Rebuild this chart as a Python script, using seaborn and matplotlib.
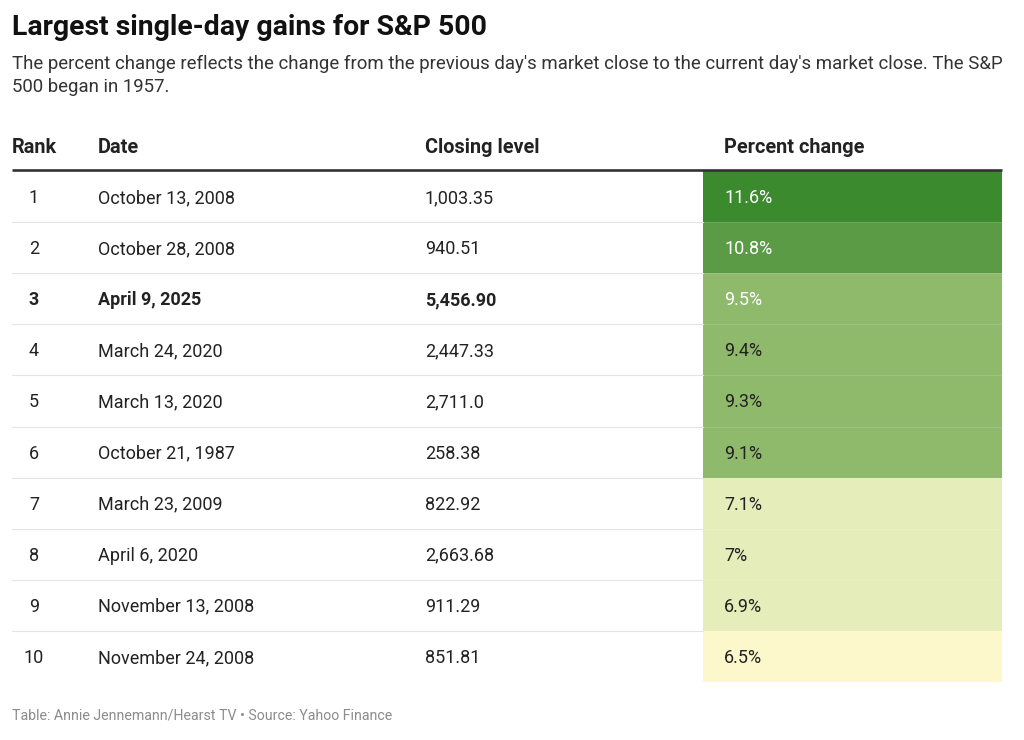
import matplotlib
matplotlib.use("Agg")
import matplotlib.pyplot as plt
import pandas as pd
import seaborn as sns
from matplotlib.colors import ListedColormap, BoundaryNorm


ranks = [1, 2, 3, 4, 5, 6, 7, 8, 9, 10]
dates = ["October 13, 2008", "October 28, 2008", "April 9, 2025", "March 24, 2020",
         "March 13, 2020", "October 21, 1987", "March 23, 2009", "April 6, 2020",
         "November 13, 2008", "November 24, 2008"]
closing = ["1,003.35", "940.51", "5,456.90", "2,447.33", "2,711.0",
           "258.38", "822.92", "2,663.68", "911.29", "851.81"]
pct_change = [11.6, 10.8, 9.5, 9.4, 9.3, 9.1, 7.1, 7.0, 6.9, 6.5]
highlight_rank = 3

title = "Largest single-day gains for S&P 500"
subtitle = ["The percent change reflects the change from the previous day's market close to the current day's market close. The S&P",
            "500 began in 1957."]
headers = ["Rank", "Date", "Closing level", "Percent change"]
footer = "Table: Annie Jennemann/Hearst TV \u2022 Source: Yahoo Finance"

# binned colour scale for the percent column
bins = [6.0, 6.8, 8.0, 10.0, 11.2, 12.0]
bin_colors = ["#fcf8cc", "#e5edbb", "#8fba6c", "#5b9b45", "#3b8a2e"]

df = pd.DataFrame({"rank": ranks, "date": dates, "close": closing, "pct": pct_change})

sns.set_theme(style="white")
plt.rcParams["font.family"] = ["Roboto", "DejaVu Sans"]

W, H = 1024, 740
fig = plt.figure(figsize=(W / 100, H / 100), dpi=100)
fig.patch.set_facecolor("white")

row_top, row_h = 171, 51.1
n = len(df)
table_bottom = row_top + n * row_h
cell_x0, cell_x1 = 703, 1002

# percent change column as a one-column heatmap
hax = fig.add_axes([cell_x0 / W, 1 - table_bottom / H, (cell_x1 - cell_x0) / W, n * row_h / H])
sns.heatmap(df[["pct"]], ax=hax, cmap=ListedColormap(bin_colors),
            norm=BoundaryNorm(bins, len(bin_colors)), cbar=False,
            xticklabels=False, yticklabels=False, linewidths=0)
hax.set_xlabel("")
hax.set_ylabel("")

# overlay axes in pixel coordinates for text and rules
ax = fig.add_axes([0, 0, 1, 1])
ax.set_xlim(0, W)
ax.set_ylim(H, 0)
ax.axis("off")
ax.patch.set_alpha(0)

ax.text(12, 35, title, fontsize=20.4, fontweight="bold", color="#111111", va="baseline")
ax.text(12, 69, subtitle[0], fontsize=13.4, color="#333333", va="baseline")
ax.text(12, 92, subtitle[1], fontsize=13.4, color="#333333", va="baseline")

col_x = [12, 98, 425, 724]
for x, h in zip(col_x, headers):
    ax.text(x, 153, h, fontsize=14.3, fontweight="bold", color="#222222", va="baseline")
ax.plot([12, cell_x1], [170, 170], color="#333333", lw=1.9, solid_capstyle="butt")

for i, r in df.iterrows():
    yb = row_top + (i + 0.5) * row_h + 6.5
    weight = "bold" if r["rank"] == highlight_rank else "normal"
    ax.text(34, yb, str(r["rank"]), fontsize=13, ha="center", va="baseline",
            color="#222222", fontweight=weight)
    ax.text(98, yb, r["date"], fontsize=13, va="baseline", color="#222222", fontweight=weight)
    ax.text(425, yb, r["close"], fontsize=13, va="baseline", color="#222222", fontweight=weight)
    txt_color = "white" if r["pct"] >= 9.5 else "#222222"
    ax.text(724, yb, f"{r['pct']:g}%", fontsize=13, va="baseline", color=txt_color)
    if i < n - 1:
        ysep = row_top + (i + 1) * row_h
        ax.plot([12, cell_x0], [ysep, ysep], color="#e4e4e4", lw=0.8)
        ax.plot([cell_x0, cell_x1], [ysep, ysep], color="white", lw=0.8, alpha=0.12)

ax.text(12, 720, footer, fontsize=10.2, color="#8c8c8c", va="baseline")

fig.savefig("out.png", dpi=100, facecolor="white")
